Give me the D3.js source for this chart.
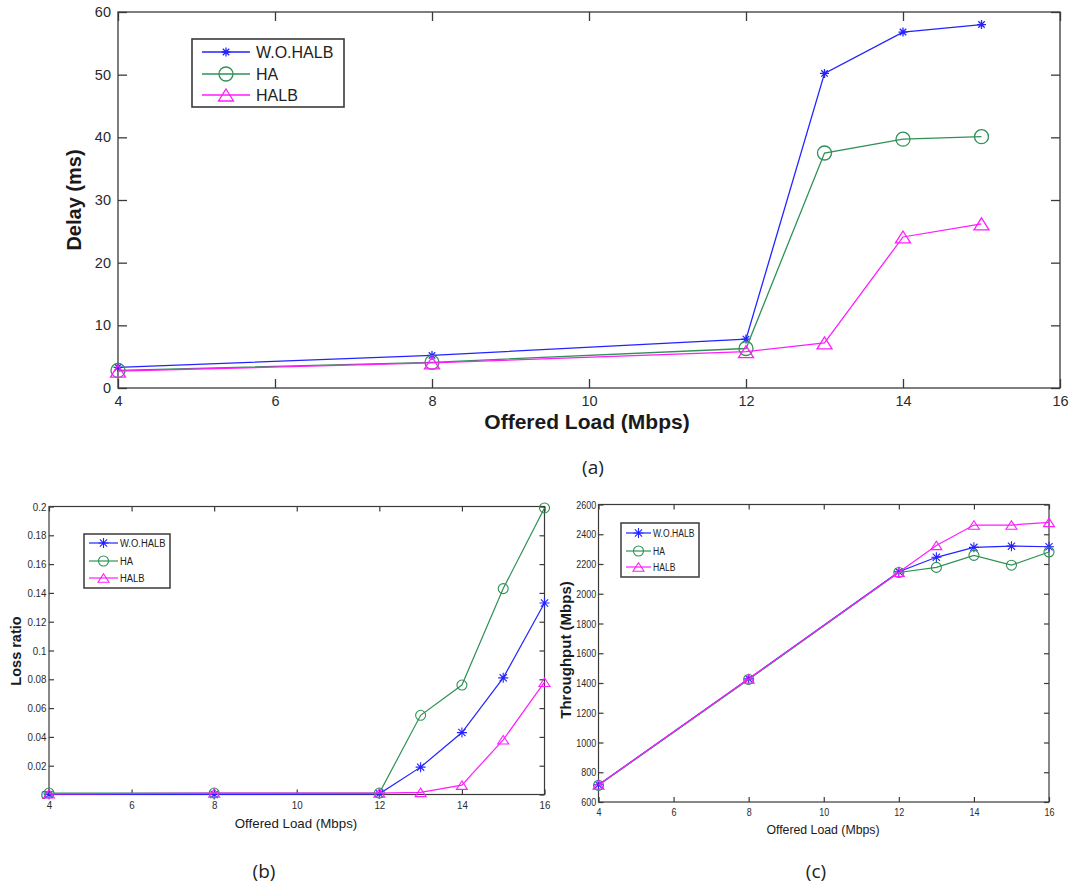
<!DOCTYPE html>
<html>
<head>
<meta charset="utf-8">
<script src="https://cdn.jsdelivr.net/npm/d3@7"></script>
<style>
  body { margin: 0; background: #fff; }
  svg { display: block; }
</style>
</head>
<body>
<svg id="fig" width="1070" height="886"></svg>
<script>
// ---- data ----
const loadDelay = [4, 8, 12, 13, 14, 15];          // Mbps, panel (a)
const loadAll = [4, 8, 12, 13, 14, 15, 16];        // Mbps, panels (b), (c)
const seriesNames = ["W.O.HALB", "HA", "HALB"];

const delayWOHALB = [3.3, 5.2, 7.8, 50.2, 56.8, 58.0];
const delayHA     = [2.8, 4.1, 6.3, 37.5, 39.7, 40.1];
const delayHALB   = [2.7, 4.0, 5.8, 7.2, 24.1, 26.2];

const lossWOHALB = [0, 0, 0.0005, 0.019, 0.043, 0.081, 0.133];
const lossHA     = [0.001, 0.001, 0.001, 0.055, 0.076, 0.143, 0.199];
const lossHALB   = [0.0005, 0.001, 0.001, 0.0015, 0.0065, 0.038, 0.078];

const tputWOHALB = [716, 1428, 2148, 2245, 2312, 2320, 2316];
const tputHA     = [712, 1424, 2143, 2177, 2258, 2192, 2281];
const tputHALB   = [715, 1428, 2145, 2325, 2462, 2462, 2480];

const loadTicks = [4, 6, 8, 10, 12, 14, 16];
const delayTicks = [0, 10, 20, 30, 40, 50, 60];
const lossTicks = [0, 0.02, 0.04, 0.06, 0.08, 0.1, 0.12, 0.14, 0.16, 0.18, 0.2];
const tputTicks = [600, 800, 1000, 1200, 1400, 1600, 1800, 2000, 2200, 2400, 2600];

const xTitle = "Offered Load (Mbps)";
const yTitles = ["Delay (ms)", "Loss ratio", "Throughput (Mbps)"];
const panelLabels = ["(a)", "(b)", "(c)"];

// ---- styling ----
const seriesColors = ["#2323ff", "#2f9155", "#ff1cff"];
const seriesMarkers = ["star", "circle", "triangle"];
const FONT = "'Liberation Sans', Arial, Helvetica, sans-serif";
const frameColor = "#3a3a3a";

const svg = d3.select("#fig");

function marker(g, type, cx, cy, sz, color, sw) {
  if (type === "star") {
    const m = sz.star, d = m * 0.72;
    g.append("path")
      .attr("d", `M${cx - m},${cy}H${cx + m}M${cx},${cy - m}V${cy + m}` +
                 `M${cx - d},${cy - d}L${cx + d},${cy + d}M${cx - d},${cy + d}L${cx + d},${cy - d}`)
      .attr("stroke", color).attr("stroke-width", sw).attr("fill", "none");
  } else if (type === "circle") {
    g.append("circle").attr("cx", cx).attr("cy", cy).attr("r", sz.circle)
      .attr("fill", "none").attr("stroke", color).attr("stroke-width", sw);
  } else {
    const w = sz.triW, h = sz.triH;
    g.append("path")
      .attr("d", `M${cx},${cy - h / 2}L${cx + w / 2},${cy + h / 2}L${cx - w / 2},${cy + h / 2}Z`)
      .attr("fill", "none").attr("stroke", color).attr("stroke-width", sw);
  }
}

function condensed(sel, s) {
  if (s !== 1) sel.attr("transform", function () {
    const t = d3.select(this).attr("transform");
    return (t ? t + " " : "") + `scale(${s},1)`;
  });
}

function drawPanel(p) {
  const g = svg.append("g");
  const x = d3.scaleLinear().domain([4, 16]).range([p.l, p.r]);
  const y = d3.scaleLinear().domain(p.yDomain).range([p.b, p.t]);

  // axes with inward ticks on all four sides
  const bottom = g.append("g").attr("transform", `translate(0,${p.b})`)
    .call(d3.axisBottom(x).tickValues(loadTicks).tickSizeInner(-p.tick).tickSizeOuter(0)
      .tickPadding(p.xPad).tickFormat(d => String(d)));
  const left = g.append("g").attr("transform", `translate(${p.l},0)`)
    .call(d3.axisLeft(y).tickValues(p.yTicks).tickSizeInner(-p.tick).tickSizeOuter(0)
      .tickPadding(p.yPad).tickFormat(p.yFmt));
  const top = g.append("g").attr("transform", `translate(0,${p.t})`)
    .call(d3.axisTop(x).tickValues(loadTicks).tickSizeInner(-p.tick).tickSizeOuter(0).tickFormat(""));
  const right = g.append("g").attr("transform", `translate(${p.r},0)`)
    .call(d3.axisRight(y).tickValues(p.yTicks).tickSizeInner(-p.tick).tickSizeOuter(0).tickFormat(""));
  [bottom, left, top, right].forEach(a => {
    a.select(".domain").remove();
    a.selectAll("line").attr("stroke", frameColor).attr("stroke-width", p.frameW);
    a.selectAll("text").attr("fill", "#2b2b2b").style("font-family", FONT).style("font-size", p.tickFont + "px");
  });
  condensed(bottom.selectAll("text"), p.tickScale);
  condensed(left.selectAll("text"), p.tickScale);

  g.append("rect").attr("x", p.l).attr("y", p.t).attr("width", p.r - p.l).attr("height", p.b - p.t)
    .attr("fill", "none").attr("stroke", frameColor).attr("stroke-width", p.frameW);

  // series
  const line = d3.line().x(d => x(d[0])).y(d => y(d[1]));
  p.series.forEach((vals, i) => {
    const pts = p.loads.map((l, k) => [l, vals[k]]);
    g.append("path").datum(pts).attr("d", line).attr("fill", "none")
      .attr("stroke", seriesColors[i]).attr("stroke-width", p.lineW);
    const mg = g.append("g");
    pts.forEach(d => marker(mg, seriesMarkers[i], x(d[0]), y(d[1]), p.mk, seriesColors[i], p.mkW));
  });

  // legend
  const L = p.legend;
  g.append("rect").attr("x", L.x).attr("y", L.y).attr("width", L.w).attr("height", L.h)
    .attr("fill", "#fff").attr("stroke", frameColor).attr("stroke-width", p.frameW + 0.3);
  seriesNames.forEach((name, i) => {
    const ry = L.rows[i];
    g.append("line").attr("x1", L.x0).attr("x2", L.x1).attr("y1", ry).attr("y2", ry)
      .attr("stroke", seriesColors[i]).attr("stroke-width", p.lineW);
    marker(g, seriesMarkers[i], (L.x0 + L.x1) / 2, ry, p.mk, seriesColors[i], p.mkW);
    g.append("text").attr("transform", `translate(${L.tx},${ry + L.font * 0.36}) scale(${L.scale},1)`)
      .style("font-family", FONT).style("font-size", L.font + "px").attr("fill", "#222").text(name);
  });

  // axis titles
  g.append("text").attr("x", p.xt.x).attr("y", p.xt.y).attr("text-anchor", "middle")
    .style("font-family", FONT).style("font-size", p.xt.size + "px").style("font-weight", p.xt.weight)
    .attr("fill", "#1a1a1a").text(xTitle);
  g.append("text").attr("transform", `translate(${p.yt.x},${p.yt.y}) rotate(-90)`).attr("text-anchor", "middle")
    .style("font-family", FONT).style("font-size", p.yt.size + "px").style("font-weight", "bold")
    .attr("fill", "#1a1a1a").text(p.yt.text);

  // sub-figure label
  svg.append("text").attr("x", p.lab.x).attr("y", p.lab.y).attr("text-anchor", "middle")
    .style("font-family", "'Open Sans', 'Noto Sans', sans-serif").style("font-size", "19px")
    .attr("fill", "#222").text(p.lab.text);
}

const numFmt = d => String(+d.toFixed(3));

// (a) delay
drawPanel({
  l: 118, r: 1060, t: 12, b: 388,
  yDomain: [0, 60], yTicks: delayTicks, yFmt: numFmt,
  tick: 9, xPad: 8, yPad: 7, tickFont: 14.5, tickScale: 1, frameW: 1.3,
  loads: loadDelay, series: [delayWOHALB, delayHA, delayHALB],
  lineW: 1.3, mkW: 1.3, mk: { star: 4.5, circle: 7, triW: 15, triH: 12 },
  legend: { x: 192, y: 39, w: 152, h: 68, rows: [52, 74, 95], x0: 202, x1: 250, tx: 256, font: 16, scale: 1 },
  xt: { x: 587, y: 429, size: 21, weight: "bold" },
  yt: { x: 81, y: 200, size: 20, text: yTitles[0] },
  lab: { x: 593, y: 474, text: panelLabels[0] }
});

// (b) loss ratio
drawPanel({
  l: 49, r: 544.5, t: 506.5, b: 794.5,
  yDomain: [0, 0.2], yTicks: lossTicks, yFmt: numFmt,
  tick: 5, xPad: 6, yPad: 3, tickFont: 11.5, tickScale: 0.85, frameW: 1.2,
  loads: loadAll, series: [lossWOHALB, lossHA, lossHALB],
  lineW: 1.2, mkW: 1.1, mk: { star: 5, circle: 5, triW: 11, triH: 8.5 },
  legend: { x: 84, y: 534, w: 86, h: 54, rows: [543, 561, 578], x0: 89, x1: 118, tx: 120, font: 11.5, scale: 0.82 },
  xt: { x: 296, y: 828, size: 13.3, weight: "normal" },
  yt: { x: 21, y: 651, size: 14.5, text: yTitles[1] },
  lab: { x: 264, y: 878, text: panelLabels[1] }
});

// (c) throughput
drawPanel({
  l: 598.5, r: 1049, t: 504.5, b: 802,
  yDomain: [600, 2600], yTicks: tputTicks, yFmt: numFmt,
  tick: 5, xPad: 6, yPad: 3, tickFont: 11.5, tickScale: 0.78, frameW: 1.2,
  loads: loadAll, series: [tputWOHALB, tputHA, tputHALB],
  lineW: 1.2, mkW: 1.1, mk: { star: 5, circle: 5, triW: 11, triH: 8.5 },
  legend: { x: 621, y: 523, w: 78, h: 54, rows: [533, 551, 567], x0: 626, x1: 651, tx: 653, font: 11, scale: 0.78 },
  xt: { x: 823, y: 834, size: 12.3, weight: "normal" },
  yt: { x: 571, y: 650, size: 15, text: yTitles[2] },
  lab: { x: 816, y: 878, text: panelLabels[2] }
});
</script>
</body>
</html>
